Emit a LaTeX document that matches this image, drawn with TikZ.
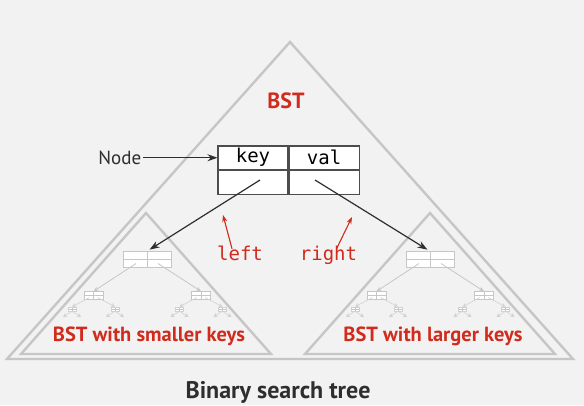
\documentclass[tikz,border=0pt]{standalone}
\usepackage{fontspec}
\setmainfont{PT Sans}
\setmonofont{DejaVu Sans Mono}
\usepackage{xcolor}
\usetikzlibrary{positioning, arrows.meta}
\definecolor{bstred}{HTML}{D02B1C}
\definecolor{paper}{HTML}{F2F2F2}
\definecolor{frame}{HTML}{C6C6C6}
\definecolor{ink}{HTML}{2E2E2E}
\tikzset{>={Stealth[length=10pt, width=7pt]},
         tri/.style={draw=frame, line width=2.4pt, line join=miter},
         cell/.style={draw=ink!85, fill=white, line width=1.1pt, minimum width=70pt,
                      minimum height=23.5pt, inner sep=0pt,
                      font=\ttfamily\fontsize{19}{19}\selectfont},
         lbl/.style={text=ink, inner sep=2pt, font=\fontsize{19}{19}\selectfont},
         redlbl/.style={text=bstred, inner sep=1pt, font=\ttfamily\fontsize{19}{19}\selectfont},
         title/.style={text=bstred, inner sep=0pt, font=\bfseries\fontsize{22}{22}\selectfont},
         sublbl/.style={text=bstred, inner sep=0pt, font=\bfseries\fontsize{20.5}{20.5}\selectfont},
         ptr/.style={->, draw=ink, line width=1.2pt},
         redptr/.style={->, >={Stealth[length=7pt, width=5pt]}, draw=bstred, line width=1.1pt},
         mini/.style={draw=frame, fill=white, inner sep=0pt, line width=1pt,
                      path picture={\draw[frame, line width=.8pt]
                        (path picture bounding box.north) -- (path picture bounding box.south)
                        (path picture bounding box.west) -- (path picture bounding box.east);}},
         minilink/.style={->, >={Stealth[length=5pt, width=4pt]}, draw=frame, line width=.8pt},
         tinylink/.style={->, >={Stealth[length=4pt, width=4pt]}, draw=frame!80, line width=.6pt},
         }

% small grey tree drawn inside each sub-triangle
\newcommand{\minitree}[2]{%
  \node[mini, minimum width=48pt, minimum height=15.5pt] (#1r) at (#2,259.5) {};
  \node[mini, minimum width=19pt, minimum height=7.7pt, line width=.7pt] (#1a) at (#2-53.5,295.5) {};
  \node[mini, minimum width=19pt, minimum height=7.7pt, line width=.7pt] (#1b) at (#2+54,295.5) {};
  \draw[minilink] ([xshift=-11pt, yshift=-4pt]#1r.center) -- (#1a.north);
  \draw[minilink] ([xshift=11pt, yshift=-4pt]#1r.center) -- (#1b.north);
  \foreach \c in {a,b} {
    \foreach \s in {-1,1} {
      \node[mini, draw=frame!80, minimum width=8pt, minimum height=4pt, line width=.5pt]
        (#1\c\s) at ([xshift=\s*21.5pt, yshift=-13.5pt]#1\c.center) {};
      \draw[tinylink] ([xshift=\s*4pt, yshift=-2pt]#1\c.center) -- (#1\c\s.north);
      \coordinate (#1\c\s l) at ([xshift=-9pt, yshift=-8pt]#1\c\s.center);
      \coordinate (#1\c\s r) at ([xshift=9pt, yshift=-8pt]#1\c\s.center);
      \draw[tinylink] (#1\c\s.south) -- (#1\c\s l);
      \draw[tinylink] (#1\c\s.south) -- (#1\c\s r);
    }
  }
}

\begin{document}
\begin{tikzpicture}[x=1pt, y=-1pt]
    \fill[paper] (0,0) rectangle (584,405);
    \useasboundingbox (0,0) rectangle (584,405);

    % triangles
    \draw[tri] (290,42) -- (573,359) -- (7,359) -- cycle;
    \draw[tri] (146,213) -- (271,354) -- (21,354) -- cycle;
    \draw[tri] (430,213) -- (555,354) -- (305,354) -- cycle;

    \node[title, anchor=base] (bst) at (286,108) {BST};

    % the node
    \node[cell] (keycell) at (253,157.75) {key};
    \node[cell, right=0pt of keycell] (valcell) {val};
    \node[cell, below=0pt of keycell] (lcell) {};
    \node[cell, below=0pt of valcell] (rcell) {};
    \node[lbl, left=74pt of keycell] (nodelbl) {Node};
    \draw[ptr] (nodelbl) -- (keycell);

    % subtrees
    \minitree{ls}{147}
    \minitree{rs}{430}

    \coordinate (lptr) at (260,180);
    \coordinate (rptr) at (315,180);
    \draw[ptr, shorten >=3pt] (lptr) -- (lsr.north);
    \draw[ptr, shorten >=3pt] (rptr) -- (rsr.north);

    \node[redlbl, anchor=base] (leftlbl) at (240,260.5) {left};
    \node[redlbl, anchor=base] (rightlbl) at (328.5,260.5) {right};
    \coordinate (lhead) at (223,215);
    \coordinate (rhead) at (352,217);
    \draw[redptr] ([xshift=-8pt, yshift=-4pt]leftlbl.north) -- (lhead);
    \draw[redptr] ([xshift=8pt, yshift=-4pt]rightlbl.north) -- (rhead);

    \node[sublbl, anchor=base] (smaller) at (149,341.5) {BST with smaller keys};
    \node[sublbl, anchor=base] (larger) at (433,341.5) {BST with larger keys};

    \node[lbl, font=\bfseries\fontsize{24}{24}\selectfont, anchor=base] (caption) at (278,398) {Binary search tree};
\end{tikzpicture}
\end{document}
